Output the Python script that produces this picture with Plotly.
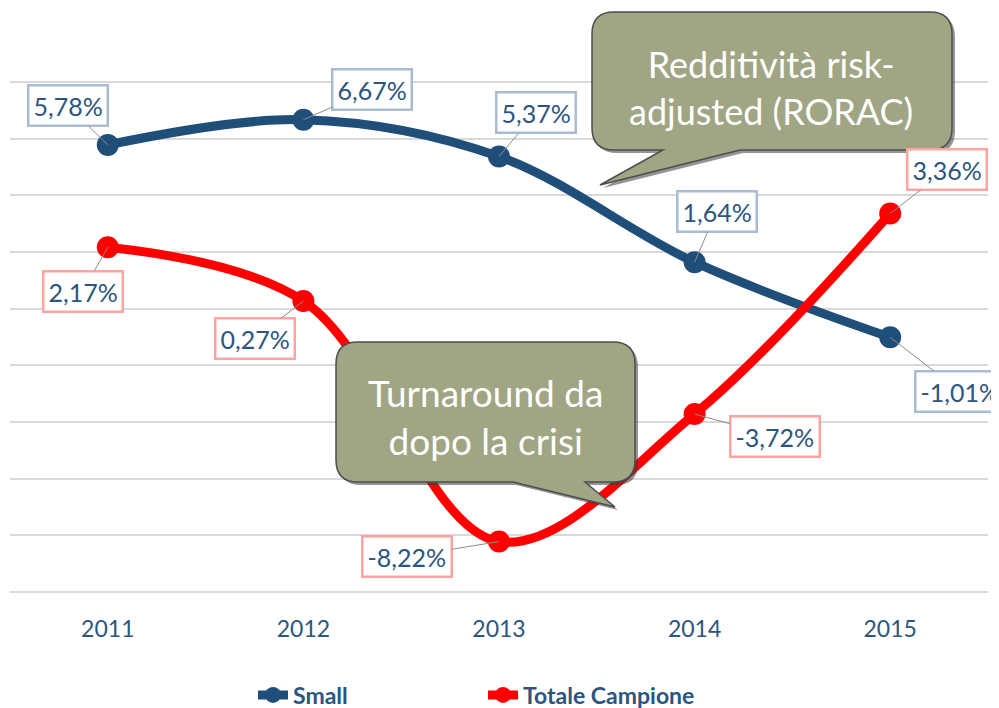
import plotly.graph_objects as go

# ---- data ----
years = ["2011", "2012", "2013", "2014", "2015"]
small = [5.78, 6.67, 5.37, 1.64, -1.01]
totale = [2.17, 0.27, -8.22, -3.72, 3.36]
small_labels = ["5,78%", "6,67%", "5,37%", "1,64%", "-1,01%"]
totale_labels = ["2,17%", "0,27%", "-8,22%", "-3,72%", "3,36%"]
callout1 = "Redditività risk-<br>adjusted (RORAC)"
callout2 = "Turnaround da<br>dopo la crisi"

# ---- layout geometry (screen coords; page body adds an 8px offset) ----
W, H = 999, 708
OFF = 8
ML, MR, MT, MB = 2, 19, 64, 114
PW, PH = W - ML - MR, H - MT - MB

def px(x):
    return (x - OFF - ML) / PW

def py(y):
    return (H - MB - (y - OFF)) / PH

NAVY = "#1F4E79"
RED = "#FF0000"
TXT = "#2C5580"

fig = go.Figure()
fig.add_trace(go.Scatter(
    x=years, y=small, mode="lines+markers", name="Small",
    line=dict(color=NAVY, width=9, shape="spline", smoothing=1),
    marker=dict(color=NAVY, size=22),
))
fig.add_trace(go.Scatter(
    x=years, y=totale, mode="lines+markers", name="Totale Campione",
    line=dict(color=RED, width=9, shape="spline", smoothing=1),
    marker=dict(color=RED, size=22),
))

annotations = []
small_off = [(-40, -39), (69, -30), (37, -44), (22, -51), (70, 54)]
tot_off = [(-25, 44), (-48, 37), (-92, 15), (80, 22), (57, -44)]
for i, (v, lab, (ax, ay)) in enumerate(zip(small, small_labels, small_off)):
    annotations.append(dict(
        x=i, y=v, xref="x", yref="y", text=lab, showarrow=True, arrowhead=0,
        arrowwidth=1, arrowcolor="#8C8C8C", ax=ax, ay=ay, standoff=0,
        bgcolor="white", bordercolor="#A9BCD2", borderwidth=2.5, borderpad=4,
        font=dict(family="Lato", size=25, color=TXT),
    ))
for i, (v, lab, (ax, ay)) in enumerate(zip(totale, totale_labels, tot_off)):
    annotations.append(dict(
        x=i, y=v, xref="x", yref="y", text=lab, showarrow=True, arrowhead=0,
        arrowwidth=1, arrowcolor="#8C8C8C", ax=ax, ay=ay, standoff=0,
        bgcolor="white", bordercolor="#FFA3A3", borderwidth=2.5, borderpad=4,
        font=dict(family="Lato", size=25, color=TXT),
    ))


def bubble_path(x0, y0, x1, y1, r, tail, dx=0, dy=0):
    bx0, bx1, tx, ty = tail
    def P(x, y):
        return f"{px(x + dx):.5f},{py(y + dy):.5f}"
    p = f"M {P(x0 + r, y0)} L {P(x1 - r, y0)} Q {P(x1, y0)} {P(x1, y0 + r)} "
    p += f"L {P(x1, y1 - r)} Q {P(x1, y1)} {P(x1 - r, y1)} "
    p += f"L {P(bx1, y1)} L {P(tx, ty)} L {P(bx0, y1)} "
    p += f"L {P(x0 + r, y1)} Q {P(x0, y1)} {P(x0, y1 - r)} "
    p += f"L {P(x0, y0 + r)} Q {P(x0, y0)} {P(x0 + r, y0)} Z"
    return p

shapes = []
b1 = (592, 12, 952, 150, 22, (663, 740, 600, 185))
b2 = (336, 342, 635, 482, 22, (513, 585, 615, 507))
for b in (b1, b2):
    x0, y0, x1, y1, r, tail = b
    shapes.append(dict(type="path", xref="paper", yref="paper", layer="above",
                       path=bubble_path(x0, y0, x1, y1, r, tail, 3, 3),
                       fillcolor="rgba(60,60,60,0.55)", line=dict(width=0)))
    shapes.append(dict(type="path", xref="paper", yref="paper", layer="above",
                       path=bubble_path(x0, y0, x1, y1, r, tail),
                       fillcolor="#A0A584", line=dict(color="#4D4D4D", width=1.5)))

annotations.append(dict(x=px(771), y=py(87), xref="paper", yref="paper",
                        xanchor="center", yanchor="middle",
                        text=callout1, showarrow=False,
                        font=dict(family="Lato", size=36, color="white")))
annotations.append(dict(x=px(485), y=py(416), xref="paper", yref="paper",
                        xanchor="center", yanchor="middle",
                        text=callout2, showarrow=False,
                        font=dict(family="Lato", size=37, color="white")))

fig.update_layout(
    width=W, height=H,
    margin=dict(l=ML, r=MR, t=MT, b=MB),
    paper_bgcolor="white", plot_bgcolor="white",
    showlegend=True,
    legend=dict(orientation="h", xref="container", yref="container",
                x=(258 - OFF - 5) / W, xanchor="left",
                y=1 - (695 - OFF) / H, yanchor="middle",
                font=dict(family="Lato", size=23, color=TXT, weight="bold"),
                entrywidth=185, entrywidthmode="pixels", itemwidth=30,
                bgcolor="rgba(0,0,0,0)"),
    xaxis=dict(type="category", range=[-0.5, 4.5], showgrid=False, zeroline=False,
               showline=False, ticks="", ticklabelstandoff=11,
               tickfont=dict(family="Lato", size=23, color=TXT)),
    yaxis=dict(range=[-10.353, 8.353], tick0=0, dtick=2, showticklabels=False,
               showgrid=True, gridcolor="#D9D9D9", gridwidth=1.5, zeroline=False,
               showline=False),
    annotations=annotations,
    shapes=shapes,
)

fig.write_html("out.html")
